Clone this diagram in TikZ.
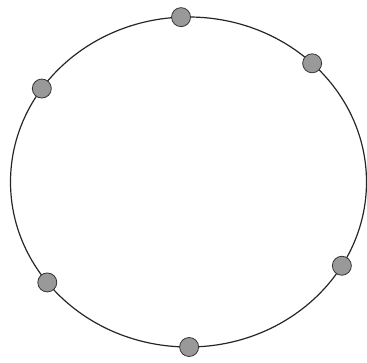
\documentclass[tikz,border=0pt]{standalone}
\begin{document}
\begin{tikzpicture}[x=1pt,y=1pt,
  ring/.style={draw=black!85,line width=1.2pt},
  dotnode/.style={circle,draw=black!80,line width=0.8pt,fill=black!40,minimum size=19pt,inner sep=0pt}]
\useasboundingbox (0,0) rectangle (367,363);
\coordinate (c) at (188.5,181);
\draw[ring] (c) ellipse [x radius=178, y radius=165];
\node[dotnode] (p1) at ([shift={(92.4:178pt and 165pt)}]c) {};
\node[dotnode] (p2) at ([shift={(46:178pt and 165pt)}]c) {};
\node[dotnode] (p3) at ([shift={(145.5:178pt and 165pt)}]c) {};
\node[dotnode] (p4) at ([shift={(-30.5:178pt and 165pt)}]c) {};
\node[dotnode] (p5) at ([shift={(217.5:178pt and 165pt)}]c) {};
\node[dotnode] (p6) at ([shift={(270.2:178pt and 165pt)}]c) {};
\end{tikzpicture}
\end{document}
